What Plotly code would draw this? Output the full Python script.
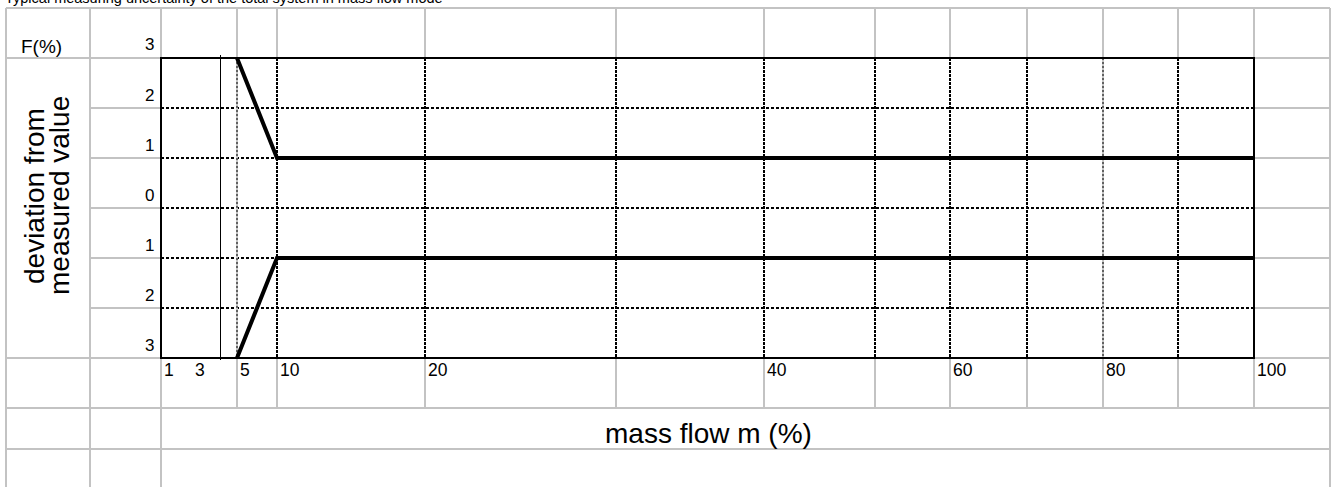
import numpy as np
import plotly.graph_objects as go

# ---------------- data ----------------
title_text = "Typical measuring uncertainty of the total system in mass flow mode"
mass_flow_ticks = [1, 3, 5, 10, 20, 40, 60, 80, 100]
mass_flow_labels = ["1", "3", "5", "10", "20", "40", "60", "80", "100"]
deviation_ticks = [3, 2, 1, 0, -1, -2, -3]
deviation_labels = ["3", "2", "1", "0", "1", "2", "3"]
upper_flow = [5, 10, 100]
upper_dev = [3, 1, 1]
lower_flow = [5, 10, 100]
lower_dev = [-3, -1, -1]
y_title_lines = ["deviation from", "measured value"]
x_title = "mass flow m (%)"
unit_label = "F(%)"

# ---------------- layout (pixel positions of the sheet grid) ----------------
W, H = 1332, 487
tick_pos = [161, 192, 237, 277, 425, 764, 950, 1103, 1254]  # x position of each mass-flow tick
box_x0, box_x1, box_y0, box_y1 = 161, 1254, 58, 358
col_full = [6, 90, 161, 1330]
col_part = [237, 277, 425, 616, 764, 875, 950, 1027, 1103, 1178, 1254]
row_full = [8, 58, 358, 408, 449]
row_part = [108, 158, 208, 258, 308]
dot_cols_bold = [277, 425, 616, 764, 875, 950, 1027, 1178]
dot_cols_thin = [237, 1103]
marker_col = 220.5
y_title_x = [34, 59]

GRAY = "#c3c3c3"
FONT = "Liberation Sans, Arial, sans-serif"


def fx(v):
    return np.interp(v, mass_flow_ticks, tick_pos)


fig = go.Figure()

fig.add_trace(go.Scatter(x=fx(upper_flow), y=upper_dev, mode="lines",
                         line=dict(color="black", width=4), xaxis="x2", yaxis="y2",
                         showlegend=False, hoverinfo="skip"))
fig.add_trace(go.Scatter(x=fx(lower_flow), y=lower_dev, mode="lines",
                         line=dict(color="black", width=4), xaxis="x2", yaxis="y2",
                         showlegend=False, hoverinfo="skip"))

shapes = []
# grey sheet grid
for x in col_full:
    shapes.append(dict(type="line", xref="x", yref="y", x0=x, x1=x, y0=8, y1=H,
                       line=dict(color=GRAY, width=2), layer="below"))
for x in col_part:
    shapes.append(dict(type="line", xref="x", yref="y", x0=x, x1=x, y0=8, y1=408,
                       line=dict(color=GRAY, width=2), layer="below"))
for y in row_full:
    shapes.append(dict(type="line", xref="x", yref="y", x0=6, x1=1330, y0=y, y1=y,
                       line=dict(color=GRAY, width=2), layer="below"))
for y in row_part:
    shapes.append(dict(type="line", xref="x", yref="y", x0=90, x1=1330, y0=y, y1=y,
                       line=dict(color=GRAY, width=2), layer="below"))
# plot box white fill + dotted grid
shapes.append(dict(type="rect", xref="x", yref="y", x0=box_x0, x1=box_x1, y0=box_y0, y1=box_y1,
                   line=dict(width=0), fillcolor="white", layer="below"))
for y in row_part:
    shapes.append(dict(type="line", xref="x", yref="y", x0=box_x0, x1=box_x1, y0=y, y1=y,
                       line=dict(color="black", width=2, dash="3px,2px"), layer="below"))
for x in dot_cols_bold:
    shapes.append(dict(type="line", xref="x", yref="y", x0=x, x1=x, y0=box_y0, y1=box_y1,
                       line=dict(color="black", width=2, dash="3px,1px"), layer="below"))
for x in dot_cols_thin:
    shapes.append(dict(type="line", xref="x", yref="y", x0=x, x1=x, y0=box_y0, y1=box_y1,
                       line=dict(color=GRAY, width=2), layer="below"))
    shapes.append(dict(type="line", xref="x", yref="y", x0=x, x1=x, y0=box_y0, y1=box_y1,
                       line=dict(color="black", width=1, dash="2px,2px"), layer="below"))
shapes.append(dict(type="line", xref="x", yref="y", x0=marker_col, x1=marker_col, y0=55, y1=360,
                   line=dict(color="black", width=1), layer="below"))
shapes.append(dict(type="rect", xref="x", yref="y", x0=box_x0, x1=box_x1, y0=box_y0, y1=box_y1,
                   line=dict(color="black", width=2), fillcolor="rgba(0,0,0,0)", layer="below"))

annotations = []
for v, t in zip(deviation_ticks, deviation_labels):
    annotations.append(dict(xref="x", yref="y2", x=156, y=v, text=t, showarrow=False,
                            xanchor="right", yanchor="middle", yshift=13,
                            font=dict(family=FONT, size=17, color="black")))
for v, t in zip(mass_flow_ticks, mass_flow_labels):
    annotations.append(dict(xref="x2", yref="y", x=fx(v), y=370, text=t, showarrow=False,
                            xanchor="left", yanchor="middle", xshift=1,
                            font=dict(family=FONT, size=17.5, color="black")))
annotations.append(dict(xref="x", yref="y", x=19, y=46, text=unit_label, showarrow=False,
                        xanchor="left", yanchor="middle",
                        font=dict(family=FONT, size=19, color="black")))
for xx, line in zip(y_title_x, y_title_lines):
    annotations.append(dict(xref="x", yref="y", x=xx, y=196, text=line,
                            showarrow=False, textangle=-90, xanchor="center", yanchor="middle",
                            font=dict(family=FONT, size=28, color="black")))
annotations.append(dict(xref="x", yref="y", x=708, y=433, text=x_title, showarrow=False,
                        xanchor="center", yanchor="middle",
                        font=dict(family=FONT, size=28, color="black")))
annotations.append(dict(xref="x", yref="y", x=3, y=8, text=title_text, showarrow=False,
                        xanchor="left", yanchor="bottom",
                        font=dict(family=FONT, size=14.5, color="black")))

fig.update_layout(
    width=W, height=H, autosize=False,
    margin=dict(l=0, r=0, t=0, b=0),
    paper_bgcolor="white", plot_bgcolor="rgba(0,0,0,0)",
    xaxis=dict(range=[0, W], domain=[0, 1], visible=False, fixedrange=True),
    yaxis=dict(range=[H, 0], domain=[0, 1], visible=False, fixedrange=True),
    xaxis2=dict(range=[box_x0, box_x1], domain=[box_x0 / W, box_x1 / W], anchor="y2",
                visible=False, fixedrange=True),
    yaxis2=dict(range=[-3, 3], domain=[(H - box_y1) / H, (H - box_y0) / H], anchor="x2",
                visible=False, fixedrange=True),
    shapes=shapes, annotations=annotations, showlegend=False,
)

fig.write_html(
    "out.html",
    config={"displayModeBar": False},
    post_script="document.body.style.margin='0px';document.body.style.overflow='hidden';",
)
